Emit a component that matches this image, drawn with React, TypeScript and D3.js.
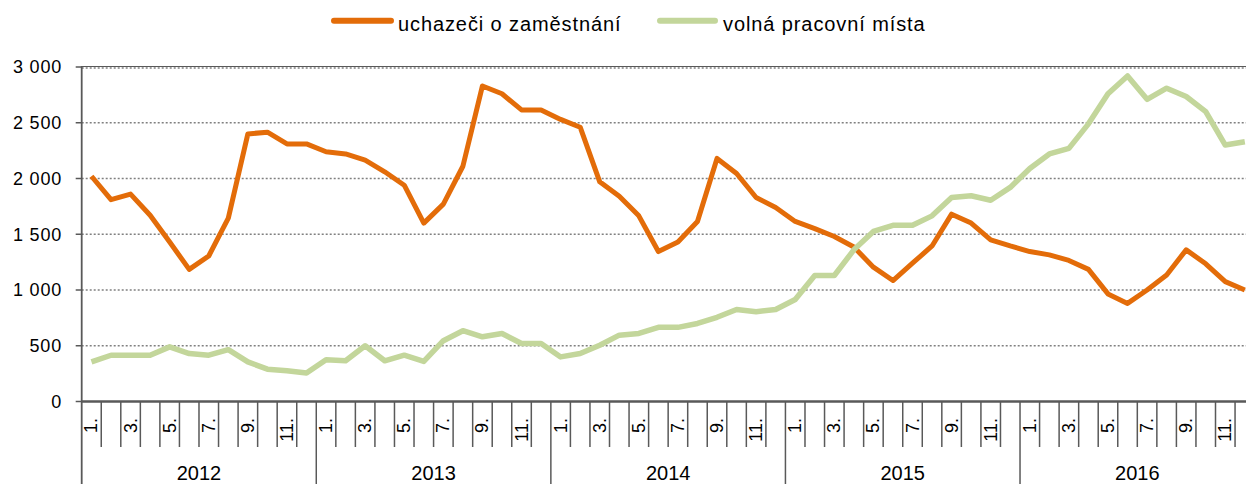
import React from "react";
import * as d3 from "d3";

const years = ["2012", "2013", "2014", "2015", "2016"];
const months = ["1.", "2.", "3.", "4.", "5.", "6.", "7.", "8.", "9.", "10.", "11.", "12."];
const yTicks = [0, 500, 1000, 1500, 2000, 2500, 3000];

const uchazeci = [
  2020, 1810, 1860, 1670, 1430, 1185, 1305, 1645, 2400, 2415, 2310, 2310,
  2240, 2220, 2165, 2060, 1940, 1600, 1770, 2110, 2830, 2760, 2615, 2615,
  2530, 2460, 1970, 1840, 1665, 1345, 1430, 1615, 2180, 2045, 1830, 1740,
  1615, 1550, 1480, 1385, 1205, 1085, 1240, 1395, 1680, 1600, 1450, 1395,
  1345, 1315, 1265, 1185, 965, 880, 1000, 1135, 1360, 1235, 1075, 1000,
];
const volnaMista = [
  355, 415, 415, 415, 490, 430, 415, 465, 355, 290, 275, 255,
  375, 365, 500, 365, 415, 360, 545, 635, 580, 610, 520, 520,
  400, 430, 505, 595, 610, 665, 665, 700, 755, 825, 805, 825,
  915, 1130, 1130, 1360, 1525, 1580, 1580, 1665, 1830, 1845, 1805, 1920,
  2090, 2220, 2270, 2490, 2760, 2920, 2710, 2810, 2735, 2600, 2300, 2330,
];
const seriesNames = ["uchazeči o zaměstnání", "volná pracovní místa"];
const seriesColors = ["#E36C09", "#C3D69B"];

const W = 1246;
const H = 484;
const left = 81.7;
const right = 1254.6;
const top = 67;
const bottom = 401.5;
const font = "'Liberation Sans', Arial, sans-serif";

export default function App() {
  const keys: string[] = [];
  years.forEach((y) => months.forEach((m) => keys.push(`${y}-${m}`)));
  const x = d3.scaleBand<string>().domain(keys).range([left, right]).padding(0);
  const bw = x.bandwidth();
  const cx = (i: number) => (x(keys[i]) as number) + bw / 2;
  const y = d3.scaleLinear().domain([0, 3000]).range([bottom, top]);

  const line = d3
    .line<number>()
    .x((_, i) => cx(i))
    .y((d) => y(d));

  const axisColor = "#595959";

  const legendItems = [
    { x1: 334, x2: 391, tx: 398 },
    { x1: 660, x2: 715, tx: 723 },
  ];

  return (
    <svg
      width={W}
      height={H}
      style={{ position: "absolute", left: 0, top: 0, overflow: "hidden", background: "#fff" }}
      fontFamily={font}
    >
      {/* legend */}
      {legendItems.map((l, i) => (
        <g key={i}>
          <line x1={l.x1} x2={l.x2} y1={20.7} y2={20.7} stroke={seriesColors[i]} strokeWidth={6} strokeLinecap="round" />
          <text x={l.tx} y={31} fontSize={20} letterSpacing={0.9} fill="#000">
            {seriesNames[i]}
          </text>
        </g>
      ))}

      {/* gridlines */}
      {yTicks.filter((t) => t > 0).map((t) => (
        <line key={t} x1={left} x2={right} y1={y(t) + (t === 3000 ? 1 : 0)} y2={y(t) + (t === 3000 ? 1 : 0)} stroke="#808080" strokeWidth={1.5} strokeDasharray="2 2" />
      ))}
      <line x1={left} x2={right} y1={y(3000) - 0.5} y2={y(3000) - 0.5} stroke={axisColor} strokeWidth={1.2} />

      {/* y axis */}
      <line x1={left} x2={left} y1={top - 1} y2={H} stroke={axisColor} strokeWidth={1.8} />
      {yTicks.map((t) => (
        <g key={t}>
          <line x1={left - 6} x2={left} y1={y(t)} y2={y(t)} stroke={axisColor} strokeWidth={1.5} />
          <text x={62} y={y(t)} dy="0.35em" textAnchor="end" fontSize={18} letterSpacing={0.8} fill="#000">
            {d3.format(",")(t).replace(/,/g, " ")}
          </text>
        </g>
      ))}

      {/* month separators and labels */}
      {keys.map((k, i) => {
        const xs = x(k) as number;
        const isYear = i % 12 === 0;
        return (
          <g key={k}>
            {i > 0 && (
              <line x1={xs} x2={xs} y1={bottom} y2={isYear ? H : 447} stroke={axisColor} strokeWidth={1.5} />
            )}
            {i % 2 === 0 && (
              <text
                transform={`translate(${cx(i) + 6},418) rotate(-90)`}
                textAnchor="end"
                fontSize={18}
                fill="#000"
              >
                {months[i % 12]}
              </text>
            )}
          </g>
        );
      })}
      <line x1={right} x2={right} y1={bottom} y2={H} stroke={axisColor} strokeWidth={1.5} />

      {/* year labels */}
      {years.map((yr, j) => {
        const x0 = x(keys[j * 12]) as number;
        const x1 = (x(keys[j * 12 + 11]) as number) + bw;
        return (
          <text key={yr} x={(x0 + x1) / 2} y={480} textAnchor="middle" fontSize={20} fill="#000">
            {yr}
          </text>
        );
      })}

      {/* x axis */}
      <line x1={left} x2={right} y1={bottom} y2={bottom} stroke={axisColor} strokeWidth={2.5} />

      {/* series: orange first, green on top */}
      <path d={line(uchazeci) || ""} fill="none" stroke={seriesColors[0]} strokeWidth={5} strokeLinejoin="round" />
      <path d={line(volnaMista) || ""} fill="none" stroke={seriesColors[1]} strokeWidth={5.5} strokeLinejoin="round" />
    </svg>
  );
}
